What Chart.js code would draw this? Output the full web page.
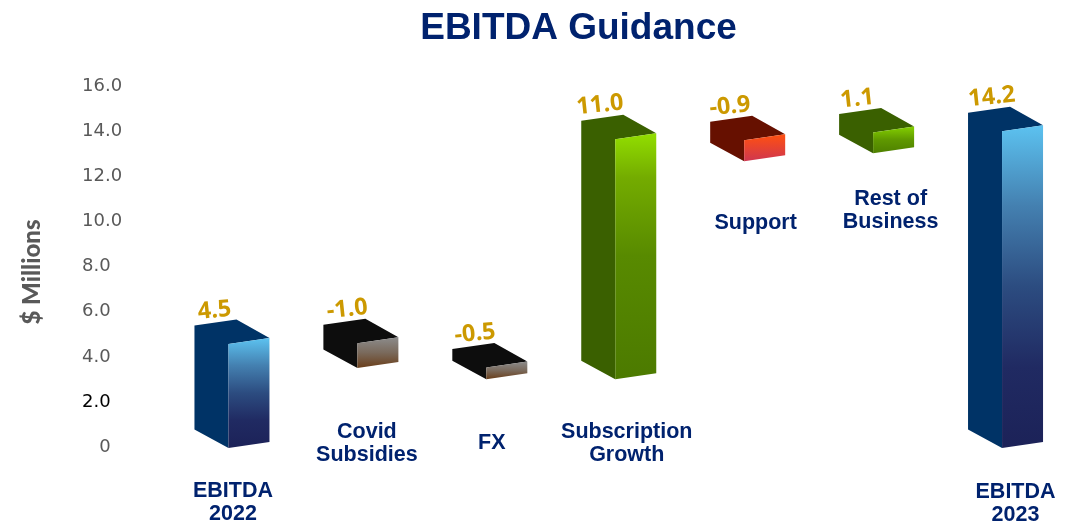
<!DOCTYPE html>
<html>
<head>
<meta charset="utf-8">
<title>EBITDA Guidance</title>
<script src="https://cdn.jsdelivr.net/npm/chart.js@4/dist/chart.umd.min.js"></script>
<style>
html,body{margin:0;padding:0;background:#fff;}
canvas{display:block;}
</style>
</head>
<body>
<canvas id="myChart" width="1073" height="522"></canvas>
<script>
// values
const categories = [['EBITDA','2022'],['Covid','Subsidies'],['FX'],['Subscription','Growth'],['Support'],['Rest of','Business'],['EBITDA','2023']];
const shownValues = ['4.5','-1.0','-0.5','11.0','-0.9','1.1','14.2'];
const barLow = [0, 3.55, 3.05, 3.05, 12.72, 13.08, 0];
const barHigh = [4.61, 4.65, 3.57, 13.7, 13.65, 14.0, 14.05];
const yTicks = [0, 2, 4, 6, 8, 10, 12, 14, 16];
const yTickLabels = ['   0', '2.0', '4.0', '6.0', '8.0', '10.0', '12.0', '14.0', '16.0'];

// box styles
const BLUE = {side:'#003366', stops:[[0,'#5cc2f0'],[0.25,'#4480b0'],[0.5,'#2c4c80'],[0.75,'#202a62'],[1,'#1c2258']]};
const BLACK = {side:'#0d0d0d', stops:[[0,'#8c8c8c'],[0.5,'#7a6a5c'],[1,'#6a3e1a']]};
const GREEN = {side:'#3a6000', stops:[[0,'#92de00'],[0.18,'#74ac00'],[0.5,'#588a00'],[1,'#4c7a00']]};
const GREEN2 = {side:'#3a6000', stops:[[0,'#84d000'],[0.5,'#5f9800'],[1,'#4e8000']]};
const RED = {side:'#661000', stops:[[0,'#ff5010'],[1,'#cf3650']]};
const barStyles = [BLUE, BLACK, BLACK, GREEN, RED, GREEN2, BLUE];

// where the category captions sit: x shift from the bar, y of each line
const labelSpots = [[1,[491,514]],[6,[432,455]],[2,[443]],[8,[432,455]],[8,[223]],[14,[199,222]],[10,[492,515]]];
// value labels are not quite lined up with their box
const valueShift = [2,2,1,-6,-2,0,-1];

function poly(c, pts, fill){
    c.beginPath();
    pts.forEach((p, i) => i ? c.lineTo(p[0], p[1]) : c.moveTo(p[0], p[1]));
    c.closePath();
    c.fillStyle = fill;
    c.fill();
}

const boxes = {
    id: 'boxes',
    afterLayout(chart){
        // title sits left of the canvas middle in the original
        chart.titleBlock.left = 42;
        chart.titleBlock.right = 1115;
    },
    afterDatasetsDraw(chart){
        const c = chart.ctx;
        c.save();
        chart.getDatasetMeta(0).data.forEach((bar, i) => {
            const fx = bar.x - 3.5;
            const yt = bar.y + 1;
            const yb = bar.base + 1;
            const st = barStyles[i];
            const g = c.createLinearGradient(0, yt - 6, 0, yb);
            st.stops.forEach(s => g.addColorStop(s[0], s[1]));
            // left and top faces share one colour, so one outline
            poly(c, [[fx-34,yt-18.5],[fx+8,yt-24.5],[fx+41,yt-6],[fx,yt],[fx,yb],[fx-34,yb-18.5]], st.side);
            poly(c, [[fx,yt],[fx+41,yt-6],[fx+41,yb-6],[fx,yb]], g);

            // printed value, tilted like the top of the box
            c.save();
            c.translate(fx - 32 + valueShift[i], yt - 18.5 - 6.5);
            c.rotate(-6 * Math.PI / 180);
            c.font = 'bold 23.5px "Open Sans"';
            c.fillStyle = '#cc9900';
            c.textAlign = 'left';
            c.textBaseline = 'alphabetic';
            c.fillText(shownValues[i], 0, 0);
            c.restore();

            // category caption
            c.font = 'bold 21.5px "Liberation Sans"';
            c.fillStyle = '#00226e';
            c.textAlign = 'center';
            c.textBaseline = 'middle';
            categories[i].forEach((line, n) => {
                c.fillText(line, bar.x + labelSpots[i][0], labelSpots[i][1][n]);
            });
        });

        // axis title
        c.translate(32, 272);
        c.rotate(-Math.PI / 2);
        c.font = '900 24px Lato';
        c.fillStyle = '#595959';
        c.textAlign = 'center';
        c.textBaseline = 'middle';
        c.fillText('$ Millions', 0, 0);
        c.restore();
    }
};

var ctx = document.getElementById('myChart').getContext('2d');
var chart = new Chart(ctx, {
    type: 'bar',
    plugins: [boxes],
    data: {
        labels: categories,
        datasets: [{
            label: 'EBITDA',
            data: barLow.map((low, i) => [low, barHigh[i]]),
            backgroundColor: 'transparent',
            borderWidth: 0,
            barThickness: 75
        }]
    },
    options: {
        responsive: false,
        animation: false,
        layout: {padding: {left: 82, right: 3, bottom: 75}},
        plugins: {
            legend: {display: false},
            tooltip: {enabled: false},
            title: {
                display: true,
                text: 'EBITDA Guidance',
                color: '#00226e',
                font: {family: '"Liberation Sans"', size: 37, weight: 'bold', lineHeight: 1.2},
                padding: {top: 7, bottom: 35}
            }
        },
        scales: {
            x: {
                afterFit(scale){ scale.height = 0; },
                grid: {display: false},
                border: {display: false},
                ticks: {display: false}
            },
            y: {
                min: 0,
                max: 16,
                afterFit(scale){ scale.width = 85.5; },
                afterBuildTicks(scale){ scale.ticks = yTicks.map(v => ({value: v})); },
                grid: {display: false},
                border: {display: false},
                ticks: {
                    crossAlign: 'far',
                    padding: 0,
                    color: c => c.tick.value === 2 ? '#000000' : '#595959',
                    font: {family: '"DejaVu Sans"', size: 18},
                    callback: v => yTickLabels[yTicks.indexOf(v)]
                }
            }
        }
    }
});
</script>
</body>
</html>
